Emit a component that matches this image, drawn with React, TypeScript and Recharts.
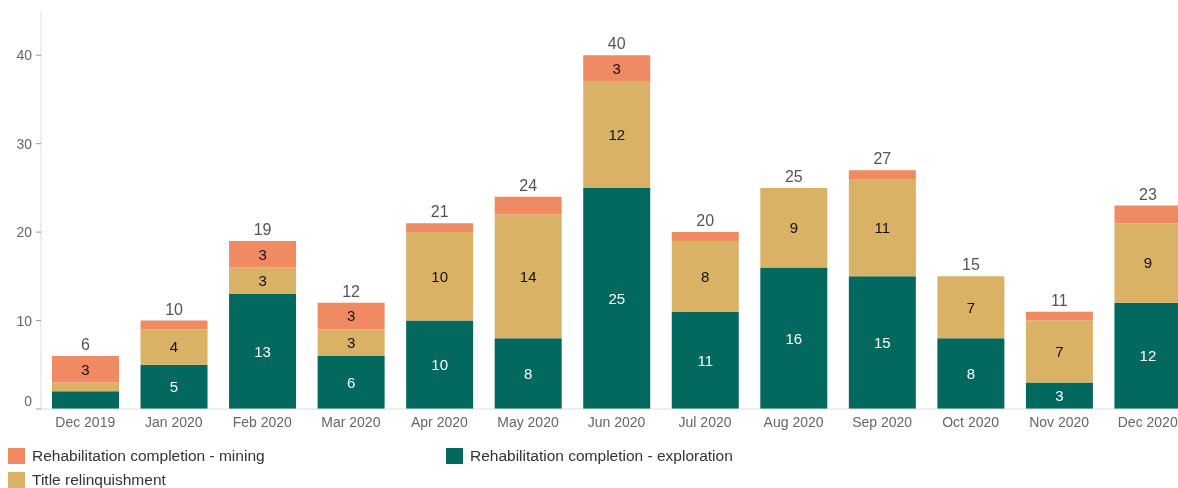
import React from 'react';
import { BarChart, Bar, XAxis, YAxis, LabelList } from 'recharts';

const months = [
  'Dec 2019', 'Jan 2020', 'Feb 2020', 'Mar 2020', 'Apr 2020', 'May 2020', 'Jun 2020',
  'Jul 2020', 'Aug 2020', 'Sep 2020', 'Oct 2020', 'Nov 2020', 'Dec 2020',
];
const exploration = [2, 5, 13, 6, 10, 8, 25, 11, 16, 15, 8, 3, 12];
const relinquishment = [1, 4, 3, 3, 10, 14, 12, 8, 9, 11, 7, 7, 9];
const mining = [3, 1, 3, 3, 1, 2, 3, 1, 0, 1, 0, 1, 2];
const yTicks = [0, 10, 20, 30, 40];

const COLORS = {
  mining: '#ef8a62',
  title: '#d9b265',
  exploration: '#03695e',
};

const data = months.map((m, i) => ({
  month: m,
  exploration: exploration[i],
  title: relinquishment[i],
  mining: mining[i],
  total: exploration[i] + relinquishment[i] + mining[i],
}));

const FONT = '"Liberation Sans", Arial, sans-serif';

const hideSmall = (v: any) => (Number(v) >= 3 ? v : '');

const YTick = (props: any) => {
  const { x, y, payload } = props;
  const shift = payload.value === 0 ? -8 : 0;
  return (
    <text x={x} y={y + shift} dy="0.355em" textAnchor="end" fill="#666" fontSize={14} fontFamily={FONT}>
      {payload.value}
    </text>
  );
};

// total sits on top of the whole stack; drawn from the title segment because
// zero-height mining segments get no label
const TotalLabel = (props: any) => {
  const { x, y, width, height, index } = props;
  const perUnit = Number(height) / relinquishment[index];
  const top = Number(y) - mining[index] * perUnit;
  return (
    <text x={Number(x) + Number(width) / 2} y={top - 6} textAnchor="middle" fill="#555" fontSize={16} fontFamily={FONT}>
      {data[index].total}
    </text>
  );
};

const legendItems = [
  { label: 'Rehabilitation completion - mining', color: COLORS.mining, left: 0, top: 0 },
  { label: 'Rehabilitation completion - exploration', color: COLORS.exploration, left: 438, top: 0 },
  { label: 'Title relinquishment', color: COLORS.title, left: 0, top: 24 },
];

export default function App() {
  return (
    <div style={{ position: 'fixed', left: 8, top: 8, width: 1170, height: 480, overflow: 'hidden', fontFamily: FONT }}>
      <BarChart
        width={1200}
        height={431}
        data={data}
        margin={{ top: 3, right: 16, left: 0, bottom: 0 }}
        barSize={67}
      >
        <XAxis
          dataKey="month"
          height={30}
          axisLine={{ stroke: '#dddddd' }}
          tickLine={false}
          tick={{ fill: '#666', fontSize: 14, fontFamily: FONT }}
          interval={0}
        />
        <YAxis
          width={33}
          domain={[0, 45]}
          ticks={yTicks}
          axisLine={{ stroke: '#dddddd' }}
          tickLine={{ stroke: '#999' }}
          tickSize={5}
          tickMargin={4}
          tick={<YTick />}
        />
        <Bar dataKey="exploration" stackId="a" fill={COLORS.exploration} isAnimationActive={false}>
          <LabelList dataKey="exploration" position="center" fill="#fff" fontSize={15} fontFamily={FONT} formatter={hideSmall} />
        </Bar>
        <Bar dataKey="title" stackId="a" fill={COLORS.title} isAnimationActive={false}>
          <LabelList dataKey="title" position="center" fill="#111" fontSize={15} fontFamily={FONT} formatter={hideSmall} />
          <LabelList dataKey="total" content={<TotalLabel />} />
        </Bar>
        <Bar dataKey="mining" stackId="a" fill={COLORS.mining} isAnimationActive={false}>
          <LabelList dataKey="mining" position="center" fill="#111" fontSize={15} fontFamily={FONT} formatter={hideSmall} />
        </Bar>
      </BarChart>
      <div style={{ position: 'absolute', left: 0, top: 440, width: 1170, height: 40 }}>
        {legendItems.map((it) => (
          <div key={it.label} style={{ position: 'absolute', left: it.left, top: it.top, height: 16, display: 'flex', alignItems: 'center' }}>
            <span style={{ display: 'inline-block', width: 17, height: 16, background: it.color }} />
            <span style={{ marginLeft: 7, fontSize: 15.5, color: '#333', lineHeight: '16px', whiteSpace: 'nowrap' }}>{it.label}</span>
          </div>
        ))}
      </div>
    </div>
  );
}
